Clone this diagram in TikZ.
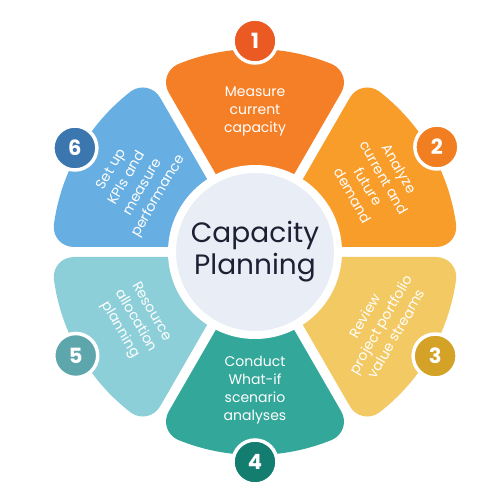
\documentclass[tikz,border=0pt]{standalone}
\usepackage{fontspec}
\setmainfont{Poppins}
\usetikzlibrary{calc}
\definecolor{p1}{HTML}{F57F27}
\definecolor{p2}{HTML}{F99D2A}
\definecolor{p3}{HTML}{F3C963}
\definecolor{p4}{HTML}{33A79A}
\definecolor{p5}{HTML}{8DCFD9}
\definecolor{p6}{HTML}{67AEE2}
\definecolor{n1}{HTML}{EC5A24}
\definecolor{n2}{HTML}{F27E22}
\definecolor{n3}{HTML}{D3A227}
\definecolor{n4}{HTML}{137D70}
\definecolor{n5}{HTML}{5DA6AC}
\definecolor{n6}{HTML}{3B77AE}
\definecolor{hubfill}{HTML}{E9EDF5}
\definecolor{hubtext}{HTML}{1C2033}
\begin{document}
\begin{tikzpicture}[x=1pt,y=1pt,
  ptext/.style={text=white, font=\fontsize{14}{18}\selectfont, align=center, inner sep=0pt},
  numc/.style={circle, minimum size=44pt, inner sep=0pt, draw=white, line width=3.5pt, text=white, font=\fontsize{21}{21}\selectfont\bfseries},
  hubc/.style={circle, minimum size=166pt, inner sep=0pt, fill=hubfill, draw=white, line width=8pt, text=hubtext, align=center, font=\fontsize{28}{32}\selectfont}]
\useasboundingbox (-255,-248) rectangle (245,252);
\def\R{203}
\def\g{5}
\def\rr{22}
\foreach \c/\col in {90/p1, 30/p2, -30/p3, -90/p4, -150/p5, 150/p6}{
  \coordinate (ai) at ($({\c-30}:15)+({\c+60}:\g)$);
  \coordinate (as) at ($({\c-30}:{\R-\rr})+({\c+60}:\g)$);
  \coordinate (k1) at ($({\c-30}:\R)+({\c+60}:\g)$);
  \coordinate (aa) at ({\c-22.4}:\R);
  \coordinate (ba) at ({\c+22.4}:\R);
  \coordinate (k2) at ($({\c+30}:\R)+({\c-60}:\g)$);
  \coordinate (bs) at ($({\c+30}:{\R-\rr})+({\c-60}:\g)$);
  \coordinate (bi) at ($({\c+30}:15)+({\c-60}:\g)$);
  \fill[\col] (ai) -- (as) .. controls ($(as)!0.55!(k1)$) and ($(aa)!0.55!(k1)$) .. (aa)
    arc[start angle=\c-22.4, end angle=\c+22.4, radius=\R]
    .. controls ($(ba)!0.55!(k2)$) and ($(bs)!0.55!(k2)$) .. (bs) -- (bi) -- cycle;
}
\node[hubc] (hub) at (0,0) {Capacity\\Planning};
\node[ptext] (t1) at (90:141) {Measure\\current\\capacity};
\node[ptext, rotate=-60] (t2) at (30:140) {Analyze\\current and\\future\\demand};
\node[ptext, rotate=60] (t3) at (-30:145) {Review\\project portfolio\\value streams};
\node[ptext] (t4) at (-90:138) {Conduct\\What-if\\scenario\\analyses};
\node[ptext, rotate=-60] (t5) at (-150:138) {Resource\\allocation\\planning};
\node[ptext, rotate=60] (t6) at (150:138) {Set up\\KPIs and\\measure\\performance};
\node[numc, fill=n1] (n1) at (90:211) {1};
\node[numc, fill=n2] (n2) at (30:210) {2};
\node[numc, fill=n3] (n3) at (-30:208) {3};
\node[numc, fill=n4] (n4) at (-90:210) {4};
\node[numc, fill=n5] (n5) at (-150:207) {5};
\node[numc, fill=n6] (n6) at (150:208) {6};
\end{tikzpicture}
\end{document}
